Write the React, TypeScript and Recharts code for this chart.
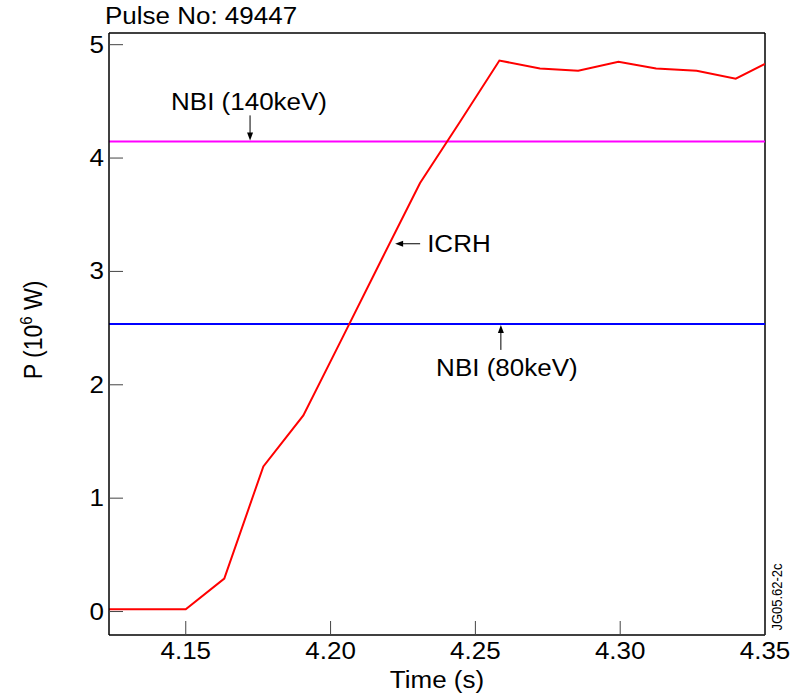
import { LineChart, Line, XAxis, YAxis, ReferenceLine, ReferenceDot } from "recharts";

// ICRH power trace (time in s, power in MW)
const time = [
  4.1235, 4.15, 4.1633, 4.1768, 4.1906, 4.2042, 4.2177, 4.2309, 4.2447, 4.2583,
  4.2723, 4.2855, 4.2994, 4.3124, 4.3264, 4.3399, 4.35,
];
const icrh = [
  0.02, 0.02, 0.29, 1.28, 1.73, 2.42, 3.11, 3.78, 4.32, 4.86,
  4.79, 4.77, 4.85, 4.79, 4.77, 4.7, 4.83,
];

// NBI levels (MW)
const nbi140 = 4.147;
const nbi80 = 2.537;

const xTicks = [4.15, 4.2, 4.25, 4.3, 4.35];
const yTicks = [0, 1, 2, 3, 4, 5];
const xDomain = [4.1235, 4.35];
const yDomain = [-0.207, 5.103];

// where the annotation arrows point
const nbi140ArrowTime = 4.1722;
const nbi80ArrowTime = 4.2588;
const icrhArrow = { t: 4.2223, p: 3.244 };

const data = time.map((t, i) => ({ t, p: icrh[i] }));

const FONT = "'Liberation Sans', Arial, Helvetica, sans-serif";
const SX = 1.13;

function Txt({ x, y, anchor = "start", size = 23, rotate = 0, children }: any) {
  const rot = rotate ? ` rotate(${rotate})` : "";
  return (
    <text
      transform={`translate(${x},${y}) scale(${SX},1)${rot}`}
      textAnchor={anchor}
      fontSize={size}
      fontFamily={FONT}
      fill="#000"
    >
      {children}
    </text>
  );
}

function XTick({ x, y, payload }: any) {
  return (
    <g>
      <line x1={x} x2={x} y1={y} y2={y - 14} stroke="#444" strokeWidth={1} />
      <Txt x={x} y={y + 24} anchor="middle">
        {Number(payload.value).toFixed(2)}
      </Txt>
    </g>
  );
}

function YTick({ x, y, payload }: any) {
  return (
    <g>
      <line x1={x} x2={x + 14} y1={y} y2={y} stroke="#444" strokeWidth={1} />
      <Txt x={x - 5} y={y + 8} anchor="end">
        {payload.value}
      </Txt>
    </g>
  );
}

function DownNote({ cx, cy, text }: any) {
  return (
    <g>
      <line x1={cx} x2={cx} y1={cy - 26} y2={cy - 8} stroke="#000" strokeWidth={1} />
      <polygon points={`${cx},${cy - 1} ${cx - 3},${cy - 9} ${cx + 3},${cy - 9}`} fill="#000" />
      <Txt x={cx - 1} y={cy - 31} anchor="middle">{text}</Txt>
    </g>
  );
}

function UpNote({ cx, cy, text }: any) {
  return (
    <g>
      <line x1={cx} x2={cx} y1={cy + 26} y2={cy + 8} stroke="#000" strokeWidth={1} />
      <polygon points={`${cx},${cy + 1} ${cx - 3},${cy + 9} ${cx + 3},${cy + 9}`} fill="#000" />
      <Txt x={cx + 6} y={cy + 52} anchor="middle">{text}</Txt>
    </g>
  );
}

function LeftNote({ cx, cy, text }: any) {
  return (
    <g>
      <line x1={cx + 7} x2={cx + 25} y1={cy} y2={cy} stroke="#000" strokeWidth={1} />
      <polygon points={`${cx},${cy} ${cx + 8},${cy - 3} ${cx + 8},${cy + 3}`} fill="#000" />
      <Txt x={cx + 32} y={cy + 8}>{text}</Txt>
    </g>
  );
}

export default function App() {
  return (
    <div style={{ position: "absolute", left: 0, top: 0, width: 807, height: 694, background: "#fff" }}>
      <LineChart width={807} height={694} data={data} margin={{ top: 33, right: 42, bottom: 0, left: 0 }}>
        <XAxis
          dataKey="t"
          type="number"
          domain={xDomain}
          ticks={xTicks}
          allowDataOverflow
          height={59}
          tickSize={0}
          tickMargin={0}
          tickLine={false}
          axisLine={{ stroke: "#000", strokeWidth: 1.5 }}
          tick={<XTick />}
          interval={0}
        />
        <YAxis
          type="number"
          domain={yDomain}
          ticks={yTicks}
          allowDataOverflow
          width={109}
          tickSize={0}
          tickMargin={0}
          tickLine={false}
          axisLine={{ stroke: "#000", strokeWidth: 1.5 }}
          tick={<YTick />}
          interval={0}
        />
        <ReferenceLine y={yDomain[1]} stroke="#000" strokeWidth={1.5} />
        <ReferenceLine x={xDomain[1]} stroke="#000" strokeWidth={1.5} />
        <ReferenceLine y={nbi140} stroke="#ff00ff" strokeWidth={2} />
        <ReferenceLine y={nbi80} stroke="#0000ff" strokeWidth={2} />
        <Line
          dataKey="p"
          stroke="#ff0000"
          strokeWidth={2}
          dot={false}
          isAnimationActive={false}
          strokeLinejoin="miter"
        />
        <ReferenceDot
          x={nbi140ArrowTime}
          y={nbi140}
          r={2}
          shape={(p: any) => <DownNote cx={p.cx} cy={p.cy} text="NBI (140keV)" />}
        />
        <ReferenceDot
          x={nbi80ArrowTime}
          y={nbi80}
          r={2}
          shape={(p: any) => <UpNote cx={p.cx} cy={p.cy} text="NBI (80keV)" />}
        />
        <ReferenceDot
          x={icrhArrow.t}
          y={icrhArrow.p}
          r={2}
          shape={(p: any) => <LeftNote cx={p.cx} cy={p.cy} text="ICRH" />}
        />
      </LineChart>
      <svg width={807} height={694} style={{ position: "absolute", left: 0, top: 0, pointerEvents: "none" }}>
        <Txt x={105} y={24}>Pulse No: 49447</Txt>
        <Txt x={437} y={688} anchor="middle">Time (s)</Txt>
        <Txt x={42} y={330} anchor="middle" rotate={-90}>
          P (10
          <tspan fontSize={15} dy={-9}>6</tspan>
          <tspan dy={9}> W)</tspan>
        </Txt>
        <Txt x={782} y={597} anchor="middle" size={13} rotate={-90}>JG05.62-2c</Txt>
      </svg>
    </div>
  );
}
